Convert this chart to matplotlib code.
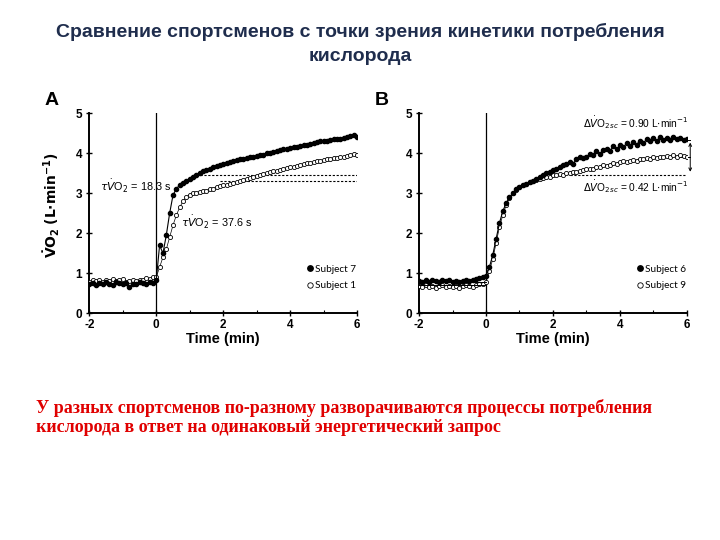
import numpy as np
import matplotlib
matplotlib.use('Agg')
import matplotlib.pyplot as plt

plt.rcParams['font.family'] = ['Liberation Sans', 'DejaVu Sans']
plt.rcParams['mathtext.fontset'] = 'dejavusans'
plt.rcParams['axes.unicode_minus'] = False

# Время (мин), шаг 0.1
time = np.round(np.arange(-20, 61) / 10, 1)

# Панель A
subject7 = [0.72, 0.75, 0.70, 0.76, 0.73, 0.78, 0.74, 0.71, 0.77, 0.75,
            0.73, 0.76, 0.66, 0.74, 0.72, 0.77, 0.75, 0.73, 0.78, 0.76,
            0.82, 1.70, 1.50, 1.95, 2.50, 2.95, 3.12, 3.20, 3.25, 3.30,
            3.36, 3.42, 3.46, 3.50, 3.55, 3.58, 3.62, 3.65, 3.68, 3.70,
            3.73, 3.75, 3.78, 3.80, 3.83, 3.85, 3.86, 3.88, 3.90, 3.91,
            3.93, 3.95, 3.97, 4.00, 4.02, 4.04, 4.06, 4.08, 4.10, 4.12,
            4.14, 4.15, 4.17, 4.19, 4.20, 4.22, 4.24, 4.26, 4.28, 4.30,
            4.31, 4.32, 4.34, 4.35, 4.36, 4.37, 4.39, 4.41, 4.44, 4.47,
            4.40]
subject1 = [0.78, 0.82, 0.80, 0.84, 0.79, 0.83, 0.81, 0.86, 0.80, 0.82,
            0.85, 0.79, 0.81, 0.83, 0.80, 0.84, 0.82, 0.88, 0.85, 0.90,
            0.90, 1.15, 1.40, 1.60, 1.90, 2.20, 2.45, 2.65, 2.80, 2.90,
            2.97, 3.00, 3.02, 3.04, 3.05, 3.07, 3.10, 3.12, 3.15, 3.18,
            3.20, 3.22, 3.24, 3.26, 3.28, 3.30, 3.33, 3.36, 3.39, 3.42,
            3.44, 3.46, 3.48, 3.50, 3.53, 3.55, 3.57, 3.59, 3.61, 3.63,
            3.66, 3.67, 3.69, 3.71, 3.73, 3.75, 3.76, 3.78, 3.80, 3.81,
            3.83, 3.85, 3.86, 3.88, 3.89, 3.91, 3.92, 3.94, 3.96, 3.98,
            3.97]

# Панель B
subject6 = [0.80, 0.78, 0.82, 0.79, 0.84, 0.81, 0.78, 0.83, 0.80, 0.82,
            0.79, 0.81, 0.78, 0.80, 0.83, 0.81, 0.84, 0.86, 0.88, 0.90,
            0.92, 1.15, 1.45, 1.85, 2.25, 2.55, 2.75, 2.90, 3.00, 3.10,
            3.15, 3.20, 3.24, 3.28, 3.32, 3.36, 3.42, 3.46, 3.50, 3.53,
            3.58, 3.62, 3.65, 3.70, 3.74, 3.78, 3.74, 3.85, 3.90, 3.88,
            3.92, 3.98, 3.95, 4.05, 3.98, 4.08, 4.12, 4.05, 4.18, 4.10,
            4.20, 4.15, 4.25, 4.18, 4.28, 4.22, 4.32, 4.26, 4.35, 4.30,
            4.38, 4.32, 4.40, 4.34, 4.38, 4.33, 4.40, 4.36, 4.38, 4.34,
            4.36]
subject9 = [0.68, 0.65, 0.70, 0.66, 0.69, 0.64, 0.67, 0.70, 0.66, 0.68,
            0.65, 0.69, 0.62, 0.67, 0.70, 0.68, 0.66, 0.70, 0.72, 0.74,
            0.78, 1.05, 1.35, 1.75, 2.15, 2.45, 2.70, 2.88, 3.00, 3.08,
            3.15, 3.20, 3.24, 3.28, 3.31, 3.33, 3.36, 3.38, 3.40, 3.42,
            3.45, 3.46, 3.48, 3.47, 3.50, 3.52, 3.54, 3.53, 3.57, 3.58,
            3.60, 3.62, 3.61, 3.65, 3.66, 3.70, 3.68, 3.72, 3.75, 3.73,
            3.78, 3.80, 3.78, 3.82, 3.84, 3.82, 3.86, 3.85, 3.88, 3.86,
            3.90, 3.88, 3.92, 3.90, 3.94, 3.91, 3.95, 3.92, 3.96, 3.93,
            3.92]

# Уровни (пунктир) и их начало
a_levels = [3.47, 3.30]
a_level_start = [1.3, 1.9]
b_level = 3.47
b_level_start = 2.5
b_base = [0.78, 0.70]
b_end = [4.34, 3.90]

title = 'Сравнение спортсменов с точки зрения кинетики потребления\nкислорода'
note = ('У разных спортсменов по-разному разворачиваются процессы потребления\n'
        'кислорода в ответ на одинаковый энергетический запрос')


def style_axes(ax):
    ax.set_xlim(-2, 6)
    ax.set_ylim(0, 5)
    for s in ['top', 'right']:
        ax.spines[s].set_visible(False)
    for s in ['left', 'bottom']:
        ax.spines[s].set_linewidth(1.4)
    ax.set_xticks([-2, 0, 2, 4, 6])
    ax.set_xticks([-1, 1, 3, 5], minor=True)
    ax.set_yticks([0, 1, 2, 3, 4, 5])
    ax.tick_params(which='major', direction='inout', length=4, width=1, labelsize=8.5)
    ax.tick_params(axis='x', which='major', pad=2)
    ax.tick_params(axis='y', which='major', pad=3)
    ax.tick_params(which='minor', direction='in', length=2, width=0.8)
    for lab in ax.get_xticklabels() + ax.get_yticklabels():
        lab.set_fontweight('bold')
    ax.axvline(0, color='black', lw=0.9, zorder=1)
    ax.set_xlabel('Time (min)', fontsize=10.5, fontweight='bold', labelpad=1)


def draw_pair(ax, y_fill, y_open, lab_fill, lab_open):
    ax.plot(time, y_open, '-', color='black', lw=0.5, zorder=2)
    ax.plot(time, y_open, 'o', ms=3.0, mfc='white', mec='black', mew=0.6,
            label=lab_open, zorder=3)
    ax.plot(time, y_fill, '-', color='black', lw=0.8, zorder=4)
    ax.plot(time, y_fill, 'o', ms=3.0, color='black', label=lab_fill, zorder=5)
    h, l = ax.get_legend_handles_labels()
    ax.legend([h[1], h[0]], [l[1], l[0]], loc='lower right', bbox_to_anchor=(1.01, 0.095),
              frameon=False, handletextpad=0.1, handlelength=0.8, labelspacing=0.75,
              markerscale=1.3, prop={'family': 'Lato', 'size': 7.2}, borderaxespad=0)


fig = plt.figure(figsize=(7.2, 5.4), dpi=100)

fig.text(0.5, 0.958, title, ha='center', va='top', fontsize=14, fontweight='bold',
         color='#1f2d4d', linespacing=1.55)

ylab = r'$\mathbf{\dot{V}O_2}$ $\mathbf{(L{\cdot}min^{-1})}$'

# Панель A
axA = fig.add_axes([0.124, 0.420, 0.372, 0.370])
style_axes(axA)
draw_pair(axA, subject7, subject1, 'Subject 7', 'Subject 1')
for lvl, st in zip(a_levels, a_level_start):
    axA.plot([st, 6], [lvl, lvl], ls=(0, (2, 1.5)), color='black', lw=0.8)
axA.text(0.45, 3.18, r'$\tau\dot{V}$O$_2$ = 18.3 s', ha='right', va='center', fontsize=7.8)
axA.text(0.75, 2.28, r'$\tau\dot{V}$O$_2$ = 37.6 s', ha='left', va='center', fontsize=7.8)
axA.set_ylabel(ylab, fontsize=10)
axA.yaxis.set_label_coords(-0.10, 0.54)
fig.text(0.062, 0.813, 'A', fontsize=14, fontweight='bold', ha='left', va='center')

# Панель B
axB = fig.add_axes([0.582, 0.420, 0.372, 0.370])
style_axes(axB)
draw_pair(axB, subject6, subject9, 'Subject 6', 'Subject 9')
axB.plot([b_level_start, 6], [b_level, b_level], ls=(0, (2, 1.5)), color='black', lw=0.8)
for lvl in b_base:
    axB.plot([-2, 0], [lvl, lvl], color='black', lw=0.7, zorder=6)
for lvl in b_end:
    axB.plot([5.7, 6.1], [lvl, lvl], color='black', lw=0.7, clip_on=False)
axB.annotate('', xy=(6.1, b_end[0]), xytext=(6.1, b_level),
             arrowprops=dict(arrowstyle='<->', lw=0.7, mutation_scale=5), annotation_clip=False)
axB.text(6.05, 4.77, r'$\Delta\dot{V}$O$_{2sc}$ = 0.90 L$\cdot$min$^{-1}$',
         ha='right', va='center', fontsize=7.3)
axB.text(6.05, 3.16, r'$\Delta\dot{V}$O$_{2sc}$ = 0.42 L$\cdot$min$^{-1}$',
         ha='right', va='center', fontsize=7.3)
fig.text(0.520, 0.813, 'B', fontsize=14, fontweight='bold', ha='left', va='center')

fig.text(0.05, 0.262, note, ha='left', va='top', fontsize=13, fontweight='bold',
         family='Liberation Serif', color='#e00000', linespacing=1.2)

fig.savefig('out.png', dpi=100)
